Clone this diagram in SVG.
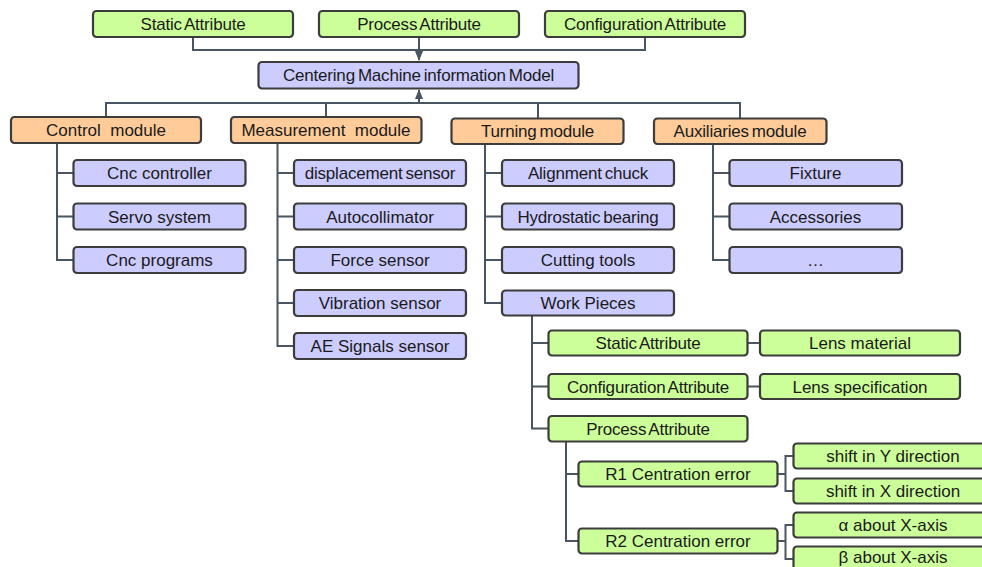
<svg xmlns="http://www.w3.org/2000/svg" width="982" height="567" viewBox="0 0 982 567">
<defs>
<style>
rect{stroke:#3c3c3c;stroke-width:2.2}
.g{fill:#ccff99}
.p{fill:#ccccff}
.o{fill:#ffcc99}
text{font-family:"Liberation Sans",Arial,sans-serif;font-size:17px;fill:#1a1a1a;text-anchor:middle}
.tc{word-spacing:-1.5px;letter-spacing:-0.2px}
.c path{fill:none;stroke:#4a5563;stroke-width:2}
</style>
<marker id="ah" viewBox="0 0 10 10" refX="9" refY="5" markerWidth="5" markerHeight="5" orient="auto"><path d="M0,1 L10,5 L0,9 z" fill="#4a5563"/></marker>
</defs>
<rect width="982" height="567" fill="#fff" style="stroke:none"/>
<g class="c" id="connectors">
<path d="M193,37 V50 H645 V37"/>
<path d="M419,37 V60" marker-end="url(#ah)"/>
<path d="M106,117 V103 H740 V118"/>
<path d="M326,103 V117"/>
<path d="M538,103 V119"/>
<path d="M419,103 V90" marker-end="url(#ah)"/>
<path d="M57,143 V260 H73 M57,173 H73 M57,216.5 H73"/>
<path d="M277.5,143 V346 H294 M277.5,173 H294 M277.5,216.5 H294 M277.5,260 H294 M277.5,303 H294"/>
<path d="M485,144 V303 H502 M485,173 H502 M485,216.5 H502 M485,260 H502"/>
<path d="M713,144 V260 H729 M713,173 H729 M713,216.5 H729"/>
<path d="M532,315.5 V428.5 H548 M532,343 H548 M532,386.5 H548"/>
<path d="M748,343 H760 M748,386.5 H760"/>
<path d="M566,441.5 V541 H578 M566,474 H578"/>
<path d="M778,474 H785.5 M793,456 H785.5 V491 H793"/>
<path d="M778,541 H785.5 M793,525 H785.5 V559 H793"/>
</g>
<g id="top-static"><rect class="g" x="93" y="11" width="200" height="26" rx="3.5"/><text class="tc" x="193" y="30">Static Attribute</text></g>
<g id="top-process"><rect class="g" x="319" y="11" width="200" height="26" rx="3.5"/><text class="tc" x="419" y="30">Process Attribute</text></g>
<g id="top-config"><rect class="g" x="545" y="11" width="200" height="26" rx="3.5"/><text class="tc" x="645" y="30">Configuration Attribute</text></g>
<g id="cmim"><rect class="p" x="258.5" y="62" width="320" height="26.5" rx="3.5"/><text class="tc" x="418.5" y="81">Centering Machine information Model</text></g>
<g id="control"><rect class="o" x="11" y="117" width="190" height="26" rx="3.5"/><text x="106" y="136" xml:space="preserve">Control  module</text></g>
<g id="measurement"><rect class="o" x="231" y="117" width="190.5" height="26" rx="3.5"/><text x="326" y="136" xml:space="preserve">Measurement  module</text></g>
<g id="turning"><rect class="o" x="451.5" y="118.5" width="172" height="25.5" rx="3.5"/><text class="tc" x="537.5" y="137">Turning module</text></g>
<g id="auxiliaries"><rect class="o" x="654" y="118.5" width="172.5" height="25.5" rx="3.5"/><text class="tc" x="740" y="137">Auxiliaries module</text></g>
<g id="cnc-controller"><rect class="p" x="73.5" y="160" width="172" height="26" rx="3.5"/><text x="159.5" y="179">Cnc controller</text></g>
<g id="servo"><rect class="p" x="73.5" y="203.5" width="172" height="26" rx="3.5"/><text x="159.5" y="222.5">Servo system</text></g>
<g id="cnc-programs"><rect class="p" x="73.5" y="247" width="172" height="26" rx="3.5"/><text x="159.5" y="266">Cnc programs</text></g>
<g id="displacement"><rect class="p" x="294" y="160" width="172" height="26" rx="3.5"/><text class="tc" x="380" y="179">displacement sensor</text></g>
<g id="autocollimator"><rect class="p" x="294" y="203.5" width="172" height="26" rx="3.5"/><text x="380" y="222.5">Autocollimator</text></g>
<g id="force"><rect class="p" x="294" y="247" width="172" height="26" rx="3.5"/><text x="380" y="266">Force sensor</text></g>
<g id="vibration"><rect class="p" x="294" y="290" width="172" height="26" rx="3.5"/><text x="380" y="309">Vibration sensor</text></g>
<g id="ae"><rect class="p" x="294" y="333" width="172" height="26" rx="3.5"/><text x="380" y="352">AE Signals sensor</text></g>
<g id="alignment"><rect class="p" x="502" y="160" width="172" height="26" rx="3.5"/><text class="tc" x="588" y="179">Alignment chuck</text></g>
<g id="hydrostatic"><rect class="p" x="502" y="203.5" width="172" height="26" rx="3.5"/><text class="tc" x="588" y="222.5">Hydrostatic bearing</text></g>
<g id="cutting"><rect class="p" x="502" y="247" width="172" height="26" rx="3.5"/><text x="588" y="266">Cutting tools</text></g>
<g id="workpieces"><rect class="p" x="502" y="290.5" width="172" height="25" rx="3.5"/><text x="588" y="309">Work Pieces</text></g>
<g id="fixture"><rect class="p" x="729.5" y="160" width="172.5" height="26" rx="3.5"/><text x="815.5" y="179">Fixture</text></g>
<g id="accessories"><rect class="p" x="729.5" y="203.5" width="172.5" height="26" rx="3.5"/><text x="815.5" y="222.5">Accessories</text></g>
<g id="aux-more"><rect class="p" x="729.5" y="247" width="172.5" height="26" rx="3.5"/><text x="815.5" y="266">…</text></g>
<g id="wp-static"><rect class="g" x="548.5" y="330.5" width="199" height="25" rx="3.5"/><text class="tc" x="648" y="349">Static Attribute</text></g>
<g id="lens-material"><rect class="g" x="760" y="330.5" width="200" height="25" rx="3.5"/><text x="860" y="349">Lens material</text></g>
<g id="wp-config"><rect class="g" x="548.5" y="374" width="199" height="25" rx="3.5"/><text class="tc" x="648" y="392.5">Configuration Attribute</text></g>
<g id="lens-spec"><rect class="g" x="760" y="374" width="200" height="25" rx="3.5"/><text x="860" y="392.5">Lens specification</text></g>
<g id="wp-process"><rect class="g" x="548.5" y="416" width="199" height="25.5" rx="3.5"/><text class="tc" x="648" y="434.5">Process Attribute</text></g>
<g id="r1"><rect class="g" x="578.5" y="461.5" width="199" height="25" rx="3.5"/><text x="678" y="480">R1 Centration error</text></g>
<g id="r2"><rect class="g" x="578.5" y="528.5" width="199" height="25" rx="3.5"/><text x="678" y="547">R2 Centration error</text></g>
<g id="shift-y"><rect class="g" x="793.5" y="443.5" width="200" height="25" rx="3.5"/><text x="893" y="462">shift in Y direction</text></g>
<g id="shift-x"><rect class="g" x="793.5" y="478.5" width="200" height="25" rx="3.5"/><text x="893" y="497">shift in X direction</text></g>
<g id="alpha"><rect class="g" x="793.5" y="512.5" width="200" height="25" rx="3.5"/><text x="893" y="531">α about X-axis</text></g>
<g id="beta"><rect class="g" x="793.5" y="546.5" width="200" height="25" rx="3.5"/><text x="893" y="563">β about X-axis</text></g>
</svg>
